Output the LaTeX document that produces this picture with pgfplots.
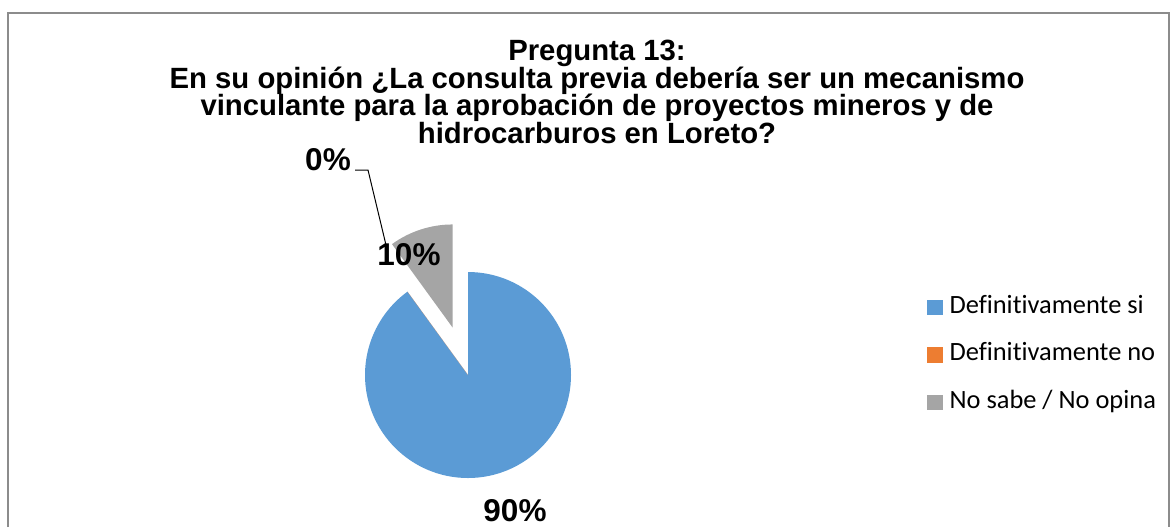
\documentclass[border=0pt]{standalone}
\usepackage{fontspec}
\usepackage{pgfplots}
\usepackage{pgfplotstable}
\pgfplotsset{compat=1.18}
\setmainfont{Liberation Sans}
\newfontfamily\legendfont{Carlito}[RawFeature={-liga;-clig;-calt;-dlig}]
\definecolor{pieblue}{HTML}{5B9BD5}
\definecolor{pieorange}{HTML}{ED7D31}
\definecolor{piegray}{HTML}{A5A5A5}
\definecolor{framegray}{HTML}{8C8C8C}

% shares in percent, in drawing order (clockwise from 12 o'clock)
\pgfplotstableread{
cat value
si  90
no  0
ns  10
}\piedata
\pgfplotstablegetelem{0}{value}\of\piedata \let\vSi\pgfplotsretval
\pgfplotstablegetelem{1}{value}\of\piedata \let\vNo\pgfplotsretval
\pgfplotstablegetelem{2}{value}\of\piedata \let\vNs\pgfplotsretval
\pgfmathsetmacro{\aA}{90-3.6*\vSi}
\pgfmathsetmacro{\aB}{\aA-3.6*\vNo}
\pgfmathsetmacro{\aC}{\aB-3.6*\vNs}
\pgfmathsetmacro{\bisC}{(\aB+\aC)/2}

\begin{document}
\begin{tikzpicture}
\begin{axis}[
  scale only axis,
  width=585.5pt, height=263.5pt,
  xmin=0, xmax=1171, ymin=0, ymax=527,
  hide axis, clip=false,
  legend style={draw=none, fill=none, at={(axis cs:921,236)}, anchor=north west,
    font=\legendfont\fontsize{13.2pt}{15pt}\selectfont,
    nodes={inner sep=0pt, text height=9pt, text depth=3pt},
    row sep=11.75pt, column sep=3.5pt},
  legend cell align=left,
  legend image code/.code={\fill[#1] (0pt,-3.6pt) rectangle (7.2pt,3.6pt);},
]
\path (axis cs:0,0) rectangle (axis cs:1171,527);
% frame (bottom edge is outside the picture)
\draw[framegray, line width=0.8pt] (axis cs:8,0) -- (axis cs:8,514) -- (axis cs:1169,514) -- (axis cs:1169,0);

% title
\begin{scope}[font=\bfseries\fontsize{14.65pt}{14pt}\selectfont]
\node[anchor=base] at (axis cs:597,467) {Pregunta 13:};
\node[anchor=base] at (axis cs:597,439) {En su opinión ¿La consulta previa debería ser un mecanismo};
\node[anchor=base] at (axis cs:597,412) {vinculante para la aprobación de proyectos mineros y de};
\node[anchor=base] at (axis cs:597,384) {hidrocarburos en Loreto?};
\end{scope}

% slices
\fill[pieblue] (axis cs:468,152) -- ++(90:51.5pt) arc[start angle=90, end angle=\aA, radius=51.5pt] -- cycle;
\fill[pieorange] (axis cs:468,152) -- ++(\aA:51.5pt) arc[start angle=\aA, end angle=\aB, radius=51.5pt] -- cycle;
\fill[piegray, shift={(\bisC:25pt)}] (axis cs:468,152) -- ++(\aB:51.5pt) arc[start angle=\aB, end angle=\aC, radius=51.5pt] -- cycle;

% data labels
\draw[black, line width=0.5pt] (axis cs:355,357) -- (axis cs:368,357) -- (axis cs:386,282);
\begin{scope}[font=\bfseries\fontsize{15.75pt}{18pt}\selectfont]
\node[anchor=base] at (axis cs:328,357) {0\%};
\node[anchor=base] at (axis cs:409,262) {10\%};
\node[anchor=base] at (axis cs:515,6) {90\%};
\end{scope}

\addlegendimage{pieblue}
\addlegendentry{Definitivamente si}
\addlegendimage{pieorange}
\addlegendentry{Definitivamente no}
\addlegendimage{piegray}
\addlegendentry{No sabe / No opina}
\end{axis}
\end{tikzpicture}
\end{document}
